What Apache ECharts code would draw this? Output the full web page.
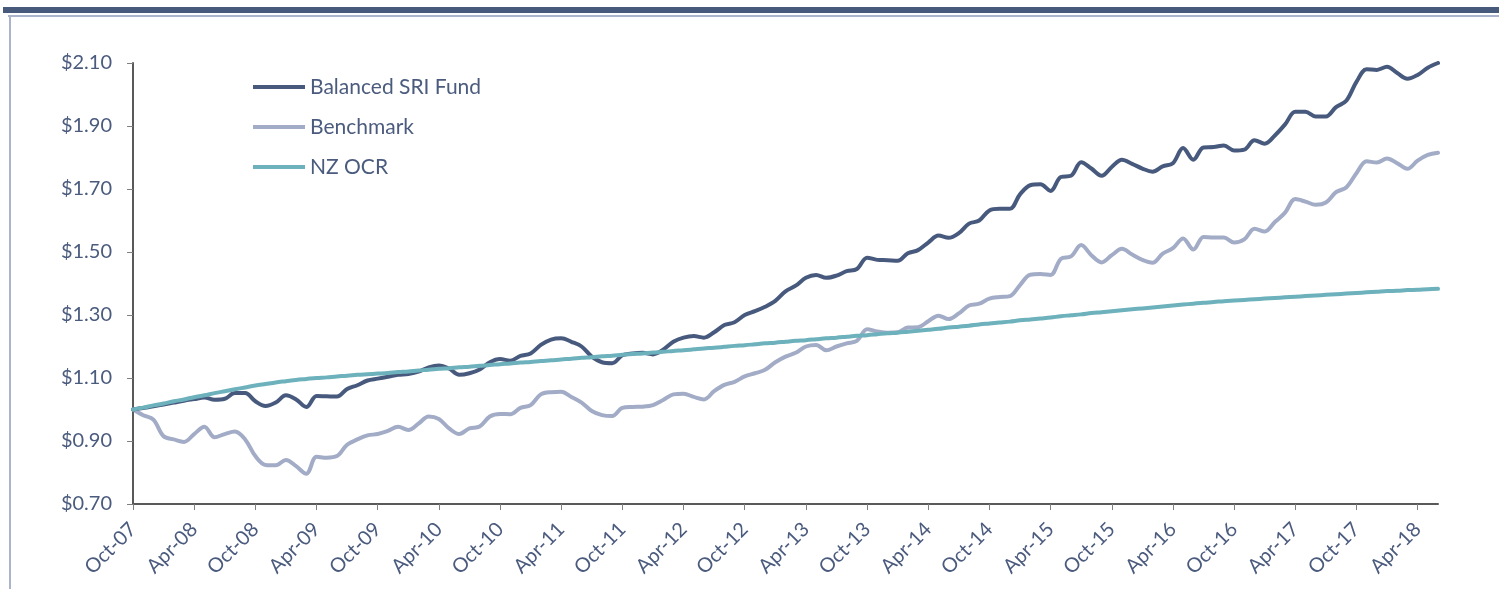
<!DOCTYPE html>
<html>
<head>
<meta charset="utf-8">
<script src="https://cdn.jsdelivr.net/npm/echarts@6/dist/echarts.min.js"></script>
<style>
  html, body { margin: 0; padding: 0; background: #fff; }
  #main { width: 1499px; height: 589px; }
</style>
</head>
<body>
<div id="main"></div>
<script>
// monthly, Oct-07 .. Jun-18
var monthNames = ['Jan', 'Feb', 'Mar', 'Apr', 'May', 'Jun', 'Jul', 'Aug', 'Sep', 'Oct', 'Nov', 'Dec'];
var months = [];
for (var y = 2007, m = 9; y * 12 + m <= 2018 * 12 + 5; m++) {
  if (m > 11) { m = 0; y++; }
  months.push(monthNames[m] + '-' + String(y).slice(2));
}

var fund = [
  1.000, 1.005, 1.010, 1.016, 1.022, 1.028, 1.033, 1.038, 1.031, 1.034,
  1.052, 1.052, 1.026, 1.011, 1.022, 1.045, 1.032, 1.008, 1.043, 1.042,
  1.041, 1.065, 1.077, 1.092, 1.098, 1.104, 1.110, 1.113, 1.120, 1.134,
  1.140, 1.130, 1.110, 1.115, 1.127, 1.150, 1.160, 1.155, 1.170, 1.178,
  1.205, 1.222, 1.226, 1.215, 1.200, 1.168, 1.150, 1.147, 1.172, 1.178,
  1.180, 1.175, 1.190, 1.215, 1.228, 1.233, 1.228, 1.245, 1.268, 1.277,
  1.300, 1.312, 1.326, 1.345, 1.375, 1.393, 1.418, 1.427, 1.418, 1.425,
  1.439, 1.446, 1.482, 1.475, 1.474, 1.472, 1.496, 1.506, 1.530, 1.552,
  1.545, 1.560, 1.590, 1.600, 1.632, 1.637, 1.637, 1.683, 1.712, 1.715,
  1.694, 1.738, 1.742, 1.785, 1.765, 1.742, 1.770, 1.793, 1.780, 1.765,
  1.755, 1.772, 1.782, 1.830, 1.793, 1.832, 1.833, 1.838, 1.822, 1.825,
  1.855, 1.844, 1.870, 1.905, 1.945, 1.945, 1.930, 1.930, 1.960, 1.980,
  2.040, 2.080, 2.078, 2.088, 2.068, 2.050, 2.062, 2.085, 2.100
];

var benchmark = [
  1.000, 0.982, 0.968, 0.915, 0.905, 0.897, 0.922, 0.945, 0.912, 0.922,
  0.930, 0.905, 0.852, 0.824, 0.823, 0.840, 0.820, 0.796, 0.850, 0.847,
  0.852, 0.888, 0.905, 0.918, 0.922, 0.932, 0.945, 0.935, 0.955, 0.978,
  0.970, 0.940, 0.922, 0.940, 0.946, 0.978, 0.986, 0.985, 1.005, 1.014,
  1.048, 1.055, 1.056, 1.040, 1.022, 0.995, 0.982, 0.979, 1.005, 1.008,
  1.009, 1.014, 1.030, 1.048, 1.050, 1.040, 1.032, 1.058, 1.078, 1.088,
  1.105, 1.115, 1.126, 1.150, 1.168, 1.180, 1.200, 1.205, 1.188, 1.200,
  1.210, 1.218, 1.255, 1.248, 1.244, 1.245, 1.260, 1.261, 1.280, 1.298,
  1.287, 1.305, 1.330, 1.336, 1.352, 1.357, 1.360, 1.395, 1.428, 1.430,
  1.427, 1.478, 1.486, 1.522, 1.490, 1.467, 1.490, 1.510, 1.492, 1.475,
  1.466, 1.495, 1.512, 1.543, 1.508, 1.548, 1.546, 1.546, 1.530, 1.540,
  1.574, 1.565, 1.595, 1.625, 1.668, 1.660, 1.650, 1.657, 1.690, 1.705,
  1.750, 1.788, 1.784, 1.797, 1.782, 1.764, 1.790, 1.808, 1.815
];

var nzOcr = [
  1.000, 1.006, 1.013, 1.019, 1.026, 1.032, 1.039, 1.045, 1.052, 1.058,
  1.064, 1.070, 1.076, 1.081, 1.086, 1.090, 1.094, 1.097, 1.100, 1.102,
  1.105, 1.107, 1.110, 1.112, 1.114, 1.116, 1.119, 1.121, 1.124, 1.126,
  1.129, 1.131, 1.134, 1.136, 1.139, 1.141, 1.144, 1.146, 1.149, 1.151,
  1.154, 1.156, 1.159, 1.161, 1.164, 1.166, 1.169, 1.171, 1.174, 1.176,
  1.178, 1.181, 1.183, 1.186, 1.188, 1.191, 1.194, 1.196, 1.199, 1.202,
  1.204, 1.207, 1.210, 1.212, 1.215, 1.218, 1.220, 1.223, 1.226, 1.228,
  1.231, 1.234, 1.236, 1.239, 1.242, 1.244, 1.247, 1.250, 1.253, 1.256,
  1.260, 1.263, 1.266, 1.270, 1.273, 1.276, 1.279, 1.283, 1.286, 1.289,
  1.292, 1.296, 1.299, 1.302, 1.306, 1.309, 1.312, 1.315, 1.318, 1.321,
  1.324, 1.327, 1.330, 1.333, 1.336, 1.339, 1.341, 1.344, 1.346, 1.348,
  1.350, 1.352, 1.354, 1.356, 1.358, 1.360, 1.362, 1.364, 1.366, 1.368,
  1.370, 1.372, 1.374, 1.376, 1.377, 1.379, 1.380, 1.382, 1.383
];

var textColor = '#4b5b7e';
var font = 'Lato';

var chart = echarts.init(document.getElementById('main'));

var option = {
  animation: false,
  backgroundColor: '#fff',
  // frame: dark band on top, thin light border
  graphic: [
    { type: 'rect', shape: { x: 3, y: 7, width: 1496, height: 6 }, style: { fill: '#475a7b' } },
    { type: 'rect', shape: { x: 8, y: 15, width: 1491, height: 2 }, style: { fill: '#aab4cc' } },
    { type: 'rect', shape: { x: 9, y: 15, width: 2, height: 574 }, style: { fill: '#aab4cc' } }
  ],
  legend: {
    orient: 'vertical',
    left: 248,
    top: 70,
    icon: 'rect',
    itemWidth: 52,
    itemHeight: 4,
    itemGap: 16,
    textStyle: { color: textColor, fontFamily: font, fontSize: 21, lineHeight: 24 },
    data: ['Balanced SRI Fund', 'Benchmark', 'NZ OCR']
  },
  grid: { left: 133, right: 61, top: 63, bottom: 85 },
  xAxis: {
    type: 'category',
    boundaryGap: false,
    data: months,
    axisLine: { lineStyle: { color: '#595959', width: 2 } },
    axisTick: { interval: 5, length: 6, lineStyle: { color: '#7f7f7f' } },
    axisLabel: {
      interval: 5,
      rotate: 45,
      margin: 22,
      color: textColor,
      fontFamily: font,
      fontSize: 20
    },
    splitLine: { show: false }
  },
  yAxis: {
    type: 'value',
    min: 0.7,
    max: 2.1,
    interval: 0.2,
    axisLine: { show: true, lineStyle: { color: '#595959', width: 2 } },
    axisTick: { show: true, length: 6, lineStyle: { color: '#7f7f7f' } },
    axisLabel: {
      margin: 21,
      color: textColor,
      fontFamily: font,
      fontSize: 20,
      formatter: function (v) { return '$' + v.toFixed(2); }
    },
    splitLine: { show: false }
  },
  series: [
    {
      name: 'Balanced SRI Fund',
      type: 'line',
      data: fund,
      smooth: 0.35,
      showSymbol: false,
      symbol: 'none',
      z: 3,
      itemStyle: { color: '#475a7e' },
      lineStyle: { color: '#475a7e', width: 4, cap: 'round' }
    },
    {
      name: 'Benchmark',
      type: 'line',
      data: benchmark,
      smooth: 0.35,
      showSymbol: false,
      symbol: 'none',
      z: 2,
      itemStyle: { color: '#a2acc6' },
      lineStyle: { color: '#a2acc6', width: 4, cap: 'round' }
    },
    {
      name: 'NZ OCR',
      type: 'line',
      data: nzOcr,
      smooth: 0.35,
      showSymbol: false,
      symbol: 'none',
      z: 4,
      itemStyle: { color: '#6cb1bb' },
      lineStyle: { color: '#6cb1bb', width: 4, cap: 'round' }
    }
  ]
};

chart.setOption(option);
</script>
</body>
</html>
